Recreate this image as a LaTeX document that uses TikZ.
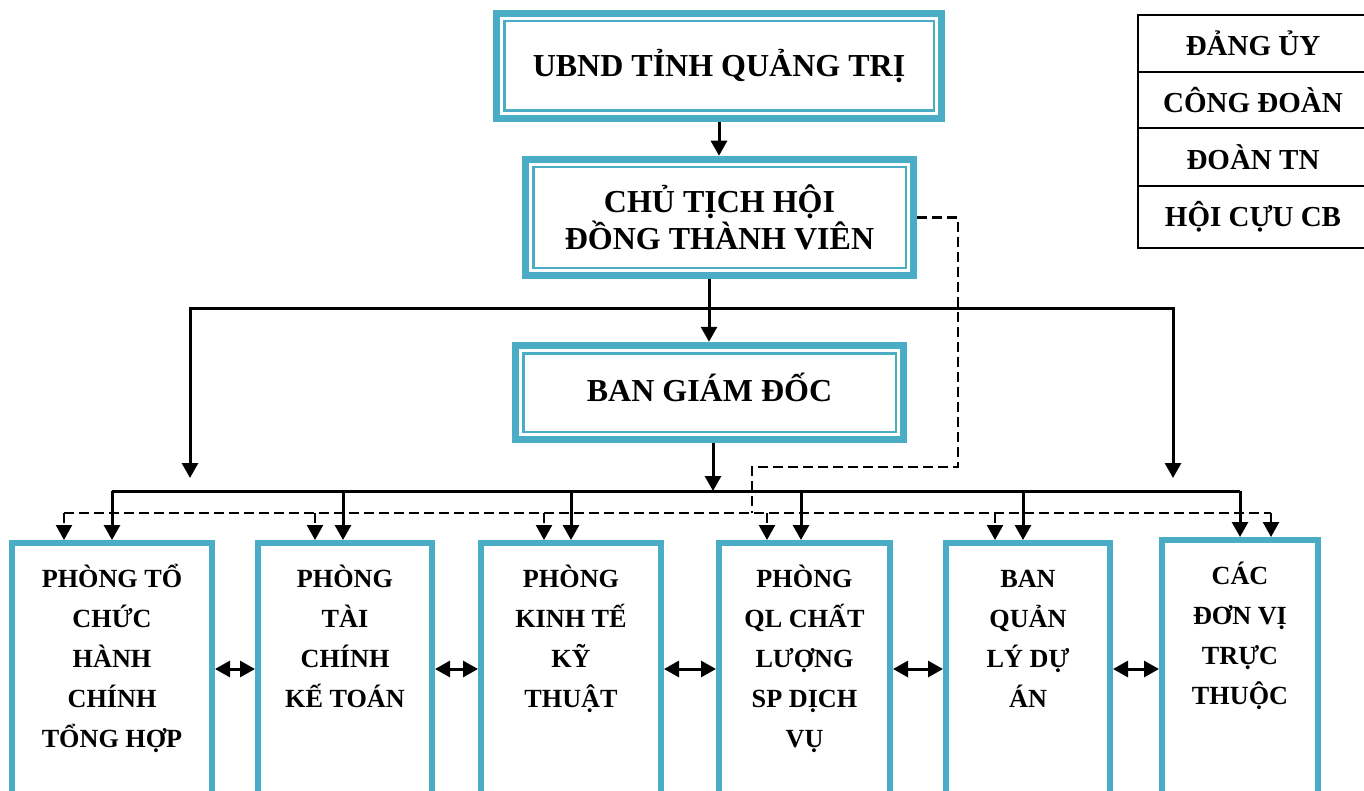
\documentclass[tikz,border=0pt]{standalone}
\usepackage{fontspec}
\setmainfont{Liberation Serif}
\usepackage{xcolor}
\usetikzlibrary{calc,arrows.meta}
\definecolor{aqua}{HTML}{4BACC6}
\definecolor{ink}{HTML}{000000}
\newcommand{\tstrut}{\rule{0pt}{14pt}}
\tikzset{
  line/.style={draw=ink, line width=1.5pt},
  arr/.style={line, -{Triangle[width=8pt,length=7.5pt]}},
  darr/.style={line, {Triangle[width=8pt,length=7.5pt]}-{Triangle[width=8pt,length=7.5pt]}},
  dline/.style={draw=ink, line width=1.2pt, dash pattern=on 5pt off 2.5pt},
  darrow/.style={dline, -{Triangle[width=8pt,length=7.5pt]}},
  head/.style={
    draw=aqua, line width=3.75pt, fill=white,
    font=\bfseries\fontsize{16}{18.5}\selectfont,
    align=center, inner sep=0pt,
    path picture={\draw[aqua, line width=1.4pt]
      ([shift={(3.8pt,-3.8pt)}]path picture bounding box.north west) rectangle
      ([shift={(-3.8pt,3.8pt)}]path picture bounding box.south east);}
  },
  unit/.style={draw=aqua, line width=3pt, anchor=north, inner sep=0pt},
  unittext/.style={
    anchor=north, align=center, inner sep=0pt,
    font=\bfseries\fontsize{13.1}{20}\selectfont
  },
  tabrow/.style={
    draw=ink, line width=1pt, minimum width=115pt, inner sep=0pt,
    font=\bfseries\fontsize{14.5}{17}\selectfont
  }
}
\begin{document}
\begin{tikzpicture}[x=0.5pt, y=-0.5pt]
  \useasboundingbox (0,0) rectangle (1364,791);

  % upper levels
  \node[head, minimum width=222.5pt, minimum height=52.5pt] (ubnd) at (719,66) {UBND TỈNH QUẢNG TRỊ};
  \node[head, minimum width=194pt, minimum height=58pt] (chutich) at (719.5,217.5) {CHỦ TỊCH HỘI\\ĐỒNG THÀNH VIÊN};
  \node[head, minimum width=194pt, minimum height=47pt] (bgd) at (709.5,392.5) {BAN GIÁM ĐỐC\rule[-5pt]{0pt}{5pt}};

  % side table
  \node[tabrow, minimum height=28.5pt] (dang) at (1253,43.5) {ĐẢNG ỦY};
  \node[tabrow, minimum height=28pt] (congdoan) at (1253,100) {CÔNG ĐOÀN};
  \node[tabrow, minimum height=29pt] (doantn) at (1253,157) {ĐOÀN TN};
  \node[tabrow, minimum height=31pt] (cuucb) at (1253,217) {HỘI CỰU CB};

  % departments (open at the bottom edge)
  \node[unit, minimum width=100pt, minimum height=126pt] (p1) at (112,540) {};
  \node[unit, minimum width=87pt, minimum height=126pt] (p2) at (345,540) {};
  \node[unit, minimum width=90pt, minimum height=126pt] (p3) at (571,540) {};
  \node[unit, minimum width=85.5pt, minimum height=126pt] (p4) at (804.5,540) {};
  \node[unit, minimum width=82pt, minimum height=126pt] (p5) at (1028,540) {};
  \node[unit, minimum width=78pt, minimum height=129pt] (p6) at (1240,537) {};

  \node[unittext] (p1t) at ([yshift=-9.5pt]p1.north) {\tstrut PHÒNG TỔ\\CHỨC\\HÀNH\\CHÍNH\\TỔNG HỢP};
  \node[unittext] (p2t) at ([yshift=-9.5pt]p2.north) {\tstrut PHÒNG\\TÀI\\CHÍNH\\KẾ TOÁN};
  \node[unittext] (p3t) at ([yshift=-9.5pt]p3.north) {\tstrut PHÒNG\\KINH TẾ\\KỸ\\THUẬT};
  \node[unittext] (p4t) at ([yshift=-9.5pt]p4.north) {\tstrut PHÒNG\\QL CHẤT\\LƯỢNG\\SP DỊCH\\VỤ};
  \node[unittext] (p5t) at ([yshift=-9.5pt]p5.north) {\tstrut BAN\\QUẢN\\LÝ DỰ\\ÁN};
  \node[unittext] (p6t) at ([yshift=-9.5pt]p6.north) {\tstrut CÁC\\ĐƠN VỊ\\TRỰC\\THUỘC};

  % chain of command
  \draw[arr] (ubnd.south) -- (ubnd.south |- chutich.north);
  \coordinate (split) at (709,308);
  \draw[arr] (chutich.south -| split) -- (bgd.north -| split);
  \coordinate (sideL) at (190,478);
  \coordinate (sideR) at (1173,478);
  \draw[arr] (split) -| (sideL);
  \draw[arr] (split) -| (sideR);

  % entry points on each department
  \foreach \b/\s/\d in {p1/0/-48, p2/-2/-30, p3/0/-27, p4/-3.5/-37.5, p5/-5/-33, p6/0/31}{
    \coordinate (s\b) at ($(\b.north)+(\s,0)$);
    \coordinate (d\b) at ($(\b.north)+(\d,0)$);
  }

  % solid bus from the board
  \coordinate (hub) at (713,491);
  \draw[arr] (bgd.south -| hub) -- (hub);
  \draw[line] (sp1 |- hub) -- (sp6 |- hub);
  \foreach \b in {p1,p2,p3,p4,p5,p6}{
    \draw[arr] (s\b |- hub) -- (s\b);
  }

  % dashed bus from the chairman
  \coordinate (dturn) at (958,467);
  \coordinate (dbus) at (752,513);
  \draw[dline] (chutich.east) -| (dturn) -| (dbus);
  \draw[dline] (dp1 |- dbus) -- (dp6 |- dbus);
  \foreach \b in {p1,p2,p3,p4,p5,p6}{
    \draw[darrow] (d\b |- dbus) -- (d\b);
  }

  % links between neighbours
  \foreach \a/\b in {p1/p2,p2/p3,p3/p4,p4/p5,p5/p6}{
    \draw[darr] (\a.east) -- (\b.west);
  }
\end{tikzpicture}
\end{document}
